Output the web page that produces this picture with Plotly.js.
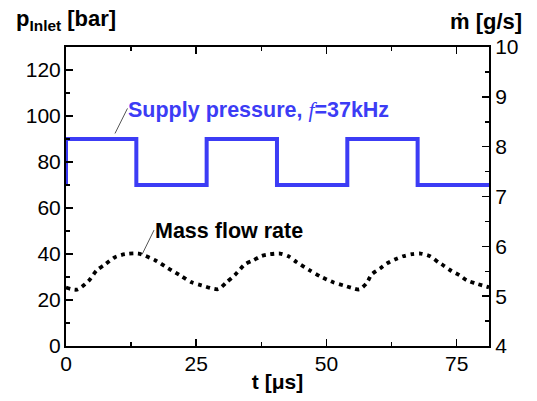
<!DOCTYPE html>
<html><head>
<meta charset="utf-8">
<script src="https://cdn.plot.ly/plotly-3.0.1.min.js"></script>
<style>body{margin:0;background:#fff}</style>
</head><body>
<div id="c" style="width:537px;height:401px"></div>
<script>
const supplyTime = [0,0,13.5,13.5,27,27,40.5,40.5,54,54,67.5,67.5,81.2];
const supplyPressure = [70,90,90,70,70,90,90,70,70,90,90,70,70];

const flowTime = [0,2.1,4.3,5.9,7.5,9.4,11.3,13.9,17.1,19.6,22.2,24.1,26.0,29.2,30.8,32.4,34.4,36.0,37.6,39.2,41.1,42.7,44.3,46.8,48.8,51.3,53.2,55.1,56.3,57.7,58.7,60.3,61.6,63.1,64.7,66.4,68.1,69.9,71.5,72.4,74.0,75.5,76.9,78.5,81.2];
const flowRate = [5.172,5.131,5.302,5.518,5.638,5.782,5.842,5.855,5.722,5.560,5.398,5.278,5.218,5.140,5.278,5.422,5.643,5.722,5.809,5.842,5.855,5.800,5.680,5.518,5.398,5.278,5.218,5.158,5.135,5.260,5.440,5.555,5.657,5.735,5.800,5.842,5.855,5.800,5.680,5.620,5.505,5.422,5.320,5.260,5.177];

const xTickVals = [0,25,50,75];
const yTickVals = [0,20,40,60,80,100,120];
const y2TickVals = [4,5,6,7,8,9,10];

const F = 'Liberation Sans, Arial, sans-serif';
const TS = 21;

const traces = [
  {x: supplyTime, y: supplyPressure, mode:'lines', line:{color:'#3c3cf5', width:4}, yaxis:'y', hoverinfo:'skip'},
  {x: flowTime, y: flowRate, mode:'lines', line:{color:'#000', width:3.8, dash:'4px,4.5px', shape:'spline', smoothing:0.7}, yaxis:'y2', hoverinfo:'skip'}
];

const layout = {
  width:537, height:401,
  margin:{l:66, r:48, t:47, b:55},
  paper_bgcolor:'#fff', plot_bgcolor:'#fff',
  showlegend:false,
  font:{family:F, size:TS, color:'#000'},
  xaxis:{
    range:[0,81.2], tickvals:xTickVals, ticks:'inside', ticklen:7, tickwidth:1.5, tickcolor:'#000',
    showline:true, linecolor:'#000', linewidth:2, mirror:'ticks', showgrid:false, zeroline:false,
    minor:{dtick:12.5, tick0:0, ticks:'inside', ticklen:4, tickwidth:1.5, tickcolor:'#000', showgrid:false},
    tickfont:{family:F, size:TS}, ticklabelstandoff:-2,
    title:{text:'t [μs]', font:{family:F, size:21, weight:'bold'}, standoff:0}
  },
  yaxis:{
    range:[0,130], tickvals:yTickVals, ticks:'inside', ticklen:7, tickwidth:1.5, tickcolor:'#000',
    showline:true, linecolor:'#000', linewidth:2, showgrid:false, zeroline:false,
    minor:{dtick:10, tick0:0, ticks:'inside', ticklen:4, tickwidth:1.5, tickcolor:'#000', showgrid:false},
    tickfont:{family:F, size:TS}, ticklabelstandoff:-1
  },
  yaxis2:{
    range:[4,10], tickvals:y2TickVals, overlaying:'y', side:'right', ticks:'inside', ticklen:7, tickwidth:1.5, tickcolor:'#000',
    showline:true, linecolor:'#000', linewidth:2, showgrid:false, zeroline:false,
    minor:{dtick:0.5, tick0:4, ticks:'inside', ticklen:4, tickwidth:1.5, tickcolor:'#000', showgrid:false},
    tickfont:{family:F, size:TS}, ticklabelstandoff:0
  },
  shapes:[
    {type:'line', xref:'x', yref:'y', x0:9.4, y0:92.4, x1:11.8, y1:103.3, line:{color:'#555', width:1}},
    {type:'line', xref:'x', yref:'y', x0:14.6, y0:39.8, x1:16.9, y1:50.4, line:{color:'#555', width:1}}
  ],
  annotations:[
    {xref:'x', yref:'y', x:11.5, y:102.8, xanchor:'left', yanchor:'middle', showarrow:false,
     text:'Supply pressure, <span style="font-family:Liberation Serif;font-style:italic;font-weight:normal">f</span>=37kHz',
     font:{family:F, size:21.5, color:'#3c3cf5', weight:'bold'}},
    {xref:'x', yref:'y', x:16.7, y:50.2, xanchor:'left', yanchor:'middle', showarrow:false,
     text:'Mass flow rate', font:{family:F, size:21.5, color:'#000', weight:'bold'}},
    {xref:'paper', yref:'paper', x:-0.122, y:1.09, xanchor:'left', yanchor:'middle', showarrow:false,
     text:'p<sub>Inlet</sub> [bar]', font:{family:F, size:22, color:'#000', weight:'bold'}},
    {xref:'paper', yref:'paper', x:1.082, y:1.085, xanchor:'right', yanchor:'middle', showarrow:false,
     text:'ṁ [g/s]', font:{family:F, size:22, color:'#000', weight:'bold'}}
  ]
};

Plotly.newPlot('c', traces, layout, {staticPlot:true, displayModeBar:false});
</script>
</body></html>
